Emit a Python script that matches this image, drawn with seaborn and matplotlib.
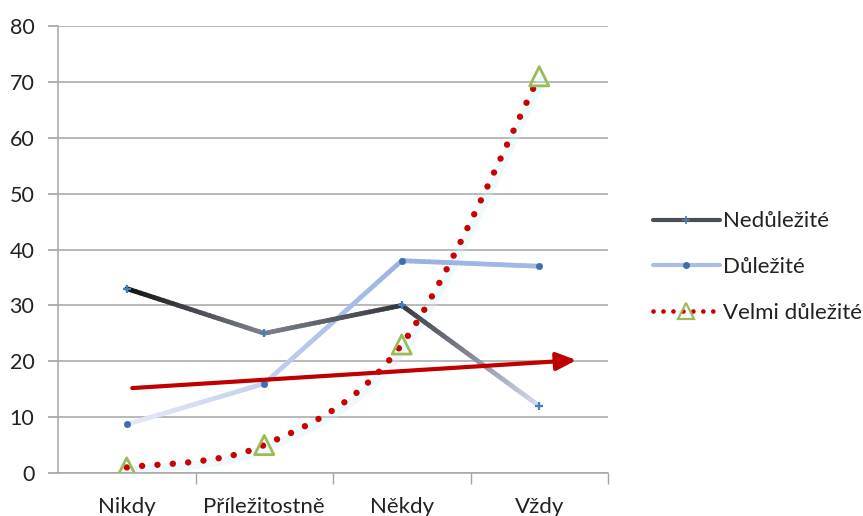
import numpy as np
import pandas as pd
import matplotlib
matplotlib.use("Agg")
import matplotlib.pyplot as plt
import matplotlib.transforms as mtransforms
from matplotlib.collections import LineCollection
from matplotlib.colors import to_rgb
from matplotlib.lines import Line2D
import seaborn as sns

# Data
categories = ["Nikdy", "Příležitostně", "Někdy", "Vždy"]
nedulezite = [33, 25, 30, 12]
dulezite = [8.7, 16, 38, 37]
velmi_dulezite = [1, 5, 23, 71]
trend_start = (0.04, 15.2)
trend_end = (3.27, 20.2)

sns.set_theme(style="white")
plt.rcParams["font.family"] = ["Lato", "DejaVu Sans"]

fig = plt.figure(figsize=(8.63, 5.16), dpi=100)
ax = fig.add_axes([58 / 863, 1 - 473 / 516, 550 / 863, (473 - 26) / 516])

x = np.arange(len(categories))
df = pd.DataFrame({"kat": x, "Nedůležité": nedulezite, "Důležité": dulezite,
                   "Velmi důležité": velmi_dulezite})


def gradient_line(ax, xs, ys, stops, lw, zorder):
    """Draw a polyline whose colour runs through the given stops (one per vertex)."""
    segs, cols = [], []
    n = 30
    for i in range(len(xs) - 1):
        c0, c1 = np.array(to_rgb(stops[i])), np.array(to_rgb(stops[i + 1]))
        t = np.linspace(0, 1, n + 1)
        px = xs[i] + (xs[i + 1] - xs[i]) * t
        py = ys[i] + (ys[i + 1] - ys[i]) * t
        for k in range(n):
            segs.append([(px[k], py[k]), (px[k + 1], py[k + 1])])
            cols.append(c0 + (c1 - c0) * (k + 0.5) / n)
    lc = LineCollection(segs, colors=cols, linewidths=lw, capstyle="round",
                        joinstyle="round", zorder=zorder)
    ax.add_collection(lc)


def smooth(xs, ys, sx=137.5, sy=5.59, n=60):
    """Bezier smoothing through the points (Catmull-Rom style tangents)."""
    P = np.column_stack([np.asarray(xs) * sx, np.asarray(ys) * sy])
    out = []
    for i in range(len(P) - 1):
        p0 = P[i - 1] if i > 0 else P[i]
        p1, p2 = P[i], P[i + 1]
        p3 = P[i + 2] if i + 2 < len(P) else P[i + 1]
        c1 = p1 + (p2 - p0) / 6
        c2 = p2 - (p3 - p1) / 6
        t = np.linspace(0, 1, n)[:, None]
        seg = ((1 - t) ** 3) * p1 + 3 * ((1 - t) ** 2) * t * c1 + 3 * (1 - t) * t ** 2 * c2 + t ** 3 * p2
        out.append(seg if i == 0 else seg[1:])
    out = np.vstack(out)
    return out[:, 0] / sx, out[:, 1] / sy


# Nedůležité – dark gradient line
gradient_line(ax, x, nedulezite, ["#0e0e0e", "#7e838e", "#33363b", "#d3dbee"], 3.4, 3)
# Důležité – pale blue gradient line
gradient_line(ax, x, dulezite, ["#e6eaf5", "#c3d1ee", "#9ab3e2", "#a2b9e4"], 3.4, 2)

# Velmi důležité – smoothed dotted red line with soft glow
sxv, syv = smooth(x, velmi_dulezite)
glow = mtransforms.offset_copy(ax.transData, fig=fig, x=3, y=-3, units="dots")
ax.plot(sxv, syv, color="#d2ecf4", lw=6, alpha=0.35, transform=glow,
        solid_capstyle="round", zorder=1)
ax.plot(sxv, syv, color="#cc0000", lw=4.6, linestyle=(0, (0.01, 2.4)),
        dash_capstyle="round", zorder=4)

# Markers through seaborn
sns.scatterplot(data=df, x="kat", y="Nedůležité", marker="+", s=40,
                color="#4a7ebb", linewidth=1.6, ax=ax, zorder=5, legend=False)
sns.scatterplot(data=df, x="kat", y="Důležité", marker="o", s=22,
                color="#3f6eb0", edgecolor="#3f6eb0", ax=ax, zorder=5, legend=False)
sns.scatterplot(data=df, x="kat", y="Velmi důležité", marker="^", s=190,
                facecolor="none", edgecolor="#9bbb59", linewidth=2,
                ax=ax, zorder=6, legend=False)

# Trend arrow
ax.annotate("", xy=trend_end, xytext=trend_start,
            arrowprops=dict(arrowstyle="-|>,head_length=1.0,head_width=0.45",
                            color="#c00000", lw=3, shrinkA=0, shrinkB=0),
            zorder=7)

# Axes styling
ax.set_xlim(-0.5, 3.5)
ax.set_ylim(0, 80)
ax.set_yticks(np.arange(0, 81, 10))
ax.set_xticks(x)
ax.set_xticklabels(categories)
ax.set_xticks([0.5, 1.5, 2.5, 3.5], minor=True)
ax.set_xlabel("")
ax.set_ylabel("")
ax.grid(axis="y", color="#a6a6a6", lw=1.1)
ax.set_axisbelow(True)
for s in ["top", "right"]:
    ax.spines[s].set_visible(False)
for s in ["left", "bottom"]:
    ax.spines[s].set_color("#a6a6a6")
    ax.spines[s].set_linewidth(1.1)
ax.tick_params(axis="y", which="major", left=True, length=7, color="#a6a6a6",
               labelsize=15.5, pad=10, labelcolor="#222222")
ax.tick_params(axis="x", which="major", bottom=False, labelsize=16, pad=11,
               labelcolor="#222222")
ax.tick_params(axis="x", which="minor", bottom=True, length=8, color="#a6a6a6")

# Legend
handles = [
    Line2D([], [], color="#4a4e56", lw=3, marker="+", markersize=6,
           markeredgecolor="#4a7ebb", markeredgewidth=1.2),
    Line2D([], [], color="#a9bde6", lw=3, marker="o", markersize=4,
           markerfacecolor="#3f6eb0", markeredgecolor="#3f6eb0"),
    Line2D([], [], color="#cc0000", lw=3.4, linestyle=(0, (0.01, 2.1)),
           dash_capstyle="round", marker="^", markersize=11,
           markerfacecolor="none", markeredgecolor="#9bbb59", markeredgewidth=1.6),
]
fig.legend(handles, ["Nedůležité", "Důležité", "Velmi důležité"],
           loc="center left", bbox_to_anchor=(644 / 863, 1 - 267 / 516),
           frameon=False, fontsize=16, handlelength=3.0, handletextpad=0.15,
           labelspacing=1.15, labelcolor="#222222", borderaxespad=0)

fig.savefig("out.png", dpi=100)
